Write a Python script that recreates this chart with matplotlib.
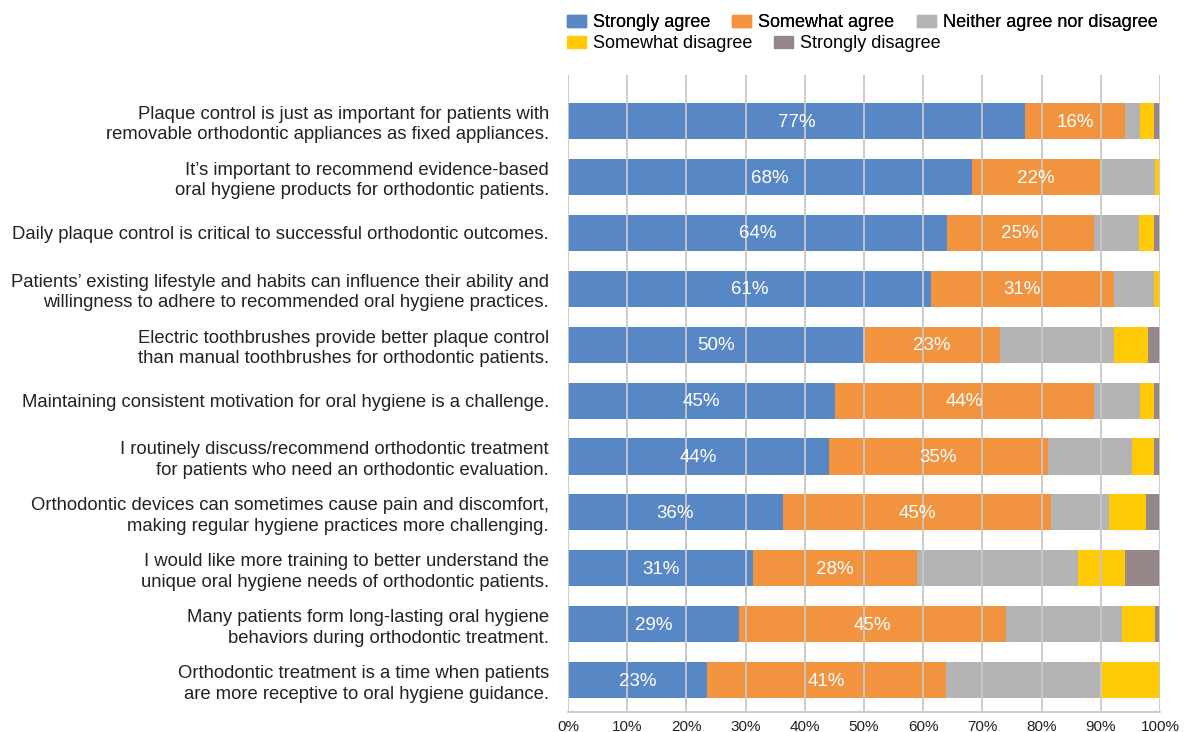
import matplotlib

matplotlib.use('Agg')

import matplotlib.pyplot as plt
from matplotlib.patches import Patch

plt.rcParams.update({
    'font.family': ['Liberation Sans', 'DejaVu Sans'],
    'font.size': 12,
})

statements = [
    'Plaque control is just as important for patients with\nremovable orthodontic appliances as fixed appliances.',
    'It\u2019s important to recommend evidence-based\noral hygiene products for orthodontic patients.',
    'Daily plaque control is critical to successful orthodontic outcomes.',
    'Patients\u2019 existing lifestyle and habits can influence their ability and\nwillingness to adhere to recommended oral hygiene practices.',
    'Electric toothbrushes provide better plaque control\nthan manual toothbrushes for orthodontic patients.',
    'Maintaining consistent motivation for oral hygiene is a challenge.',
    'I routinely discuss/recommend orthodontic treatment\nfor patients who need an orthodontic evaluation.',
    'Orthodontic devices can sometimes cause pain and discomfort,\nmaking regular hygiene practices more challenging.',
    'I would like more training to better understand the\nunique oral hygiene needs of orthodontic patients.',
    'Many patients form long-lasting oral hygiene\nbehaviors during orthodontic treatment.',
    'Orthodontic treatment is a time when patients\nare more receptive to oral hygiene guidance.',
]

strongly_agree = [77.2, 68.2, 64.0, 61.3, 50.0, 45.1, 44.1, 36.3, 31.3, 28.9, 23.4]
somewhat_agree = [16.9, 21.8, 24.8, 30.9, 23.0, 43.7, 37.0, 45.3, 27.7, 45.1, 40.5]
neither = [2.5, 9.2, 7.7, 6.8, 19.2, 7.8, 14.1, 9.8, 27.1, 19.6, 26.0]
somewhat_disagree = [2.4, 0.8, 2.5, 1.0, 5.8, 2.4, 3.8, 6.2, 8.0, 5.6, 10.1]
strongly_disagree = [1.0, 0.0, 1.0, 0.0, 2.0, 1.0, 1.0, 2.4, 5.9, 0.8, 0.0]

# labels as printed on the bars
sa_labels = [77, 68, 64, 61, 50, 45, 44, 36, 31, 29, 23]
swa_labels = [16, 22, 25, 31, 23, 44, 35, 45, 28, 45, 41]

series = [
    ('Strongly agree', strongly_agree, '#5787c5'),
    ('Somewhat agree', somewhat_agree, '#f29340'),
    ('Neither agree nor disagree', neither, '#b4b4b4'),
    ('Somewhat disagree', somewhat_disagree, '#ffc905'),
    ('Strongly disagree', strongly_disagree, '#968889'),
]

fig = plt.figure(figsize=(11.87, 7.32), dpi=100)
ax = fig.add_axes([568 / 1187, 1 - 712 / 732, 592 / 1187, 637 / 732])

ypos = list(range(len(statements)))
left = [0.0] * len(statements)
bars = {}
for name, vals, color in series:
    bars[name] = ax.barh(ypos, vals, left=left, height=0.645, color=color,
                         label=name, zorder=2)
    left = [a + b for a, b in zip(left, vals)]

for key, labels in [('Strongly agree', sa_labels), ('Somewhat agree', swa_labels)]:
    for rect, lab in zip(bars[key], labels):
        ax.text(rect.get_x() + rect.get_width() / 2,
                rect.get_y() + rect.get_height() / 2 + 0.02,
                f'{lab}%', color='white', ha='center', va='center',
                fontsize=13.5, zorder=4)

ax.set_xlim(0, 100)
ax.set_ylim(10.57, -0.823)
ax.set_xticks(range(0, 101, 10))
ax.set_xticklabels([f'{t}%' for t in range(0, 101, 10)], fontsize=11, color='#222222')
ax.set_yticks(ypos)
ax.set_yticklabels(statements, fontsize=13.3, color='#222222', linespacing=1.26)
ax.tick_params(axis='both', length=0)
ax.tick_params(axis='y', pad=13.7)
ax.tick_params(axis='x', pad=6)
ax.xaxis.grid(True, color='#c8c8c8', linewidth=1.3, zorder=3)
ax.set_axisbelow(False)
for s in ['top', 'right', 'left']:
    ax.spines[s].set_visible(False)
ax.spines['bottom'].set_color('#c8c8c8')
ax.spines['bottom'].set_linewidth(1.3)

handles = [Patch(color=c, label=n) for n, _, c in series]
leg_kw = dict(frameon=False, fontsize=13, handlelength=1.05, handleheight=0.67,
              handletextpad=0.39, columnspacing=1.22, borderpad=0, borderaxespad=0,
              loc='center left')
leg1 = fig.legend(handles=handles[:3], ncol=3,
                  bbox_to_anchor=(567 / 1187, 1 - 22.5 / 732), **leg_kw)
fig.add_artist(leg1)
fig.legend(handles=handles[3:], ncol=2,
           bbox_to_anchor=(567 / 1187, 1 - 43.5 / 732), **leg_kw)

fig.savefig('out.png', dpi=100)
